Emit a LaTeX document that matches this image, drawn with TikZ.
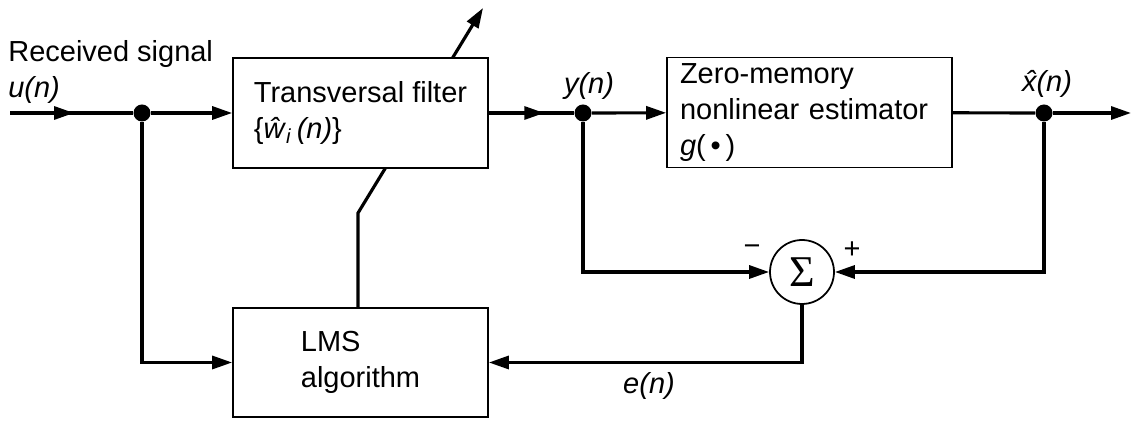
\documentclass[tikz,border=0pt]{standalone}
\usepackage{fontspec}
\setmainfont{Liberation Sans}
\newfontfamily\sigmafont{Liberation Serif}
\usetikzlibrary{arrows.meta, positioning, decorations.markings}

\begin{document}
\begin{tikzpicture}[
    x=0.02cm, y=-0.02cm,
    font=\fontsize{16.5}{20.5}\selectfont,
    arrow/.style={-{Triangle[length=0.4cm, width=0.26cm]}, line width=1.8pt},
    wire/.style={line width=1.8pt},
    midarrow/.style={
        line width=1.8pt,
        postaction={decorate},
        decoration={markings,
            mark=at position #1 with {\arrow{Triangle[length=0.4cm, width=0.26cm]}}}
    },
    midarrow/.default=0.5,
    block/.style={
        rectangle,
        draw=black,
        fill=white,
        line width=1pt,
        minimum width=5.1cm,
        minimum height=2.2cm,
        align=left
    },
    dot/.style={circle, fill=black, inner sep=0pt, minimum size=0.34cm},
    sumnode/.style={circle, draw=black, fill=white, line width=1pt, minimum size=1.28cm, inner sep=0pt},
    lbl/.style={inner sep=0pt, align=left}
]
\useasboundingbox (0,0) rectangle (1133,421);

\node[block, minimum height=2.18cm] (lms) at (360.5,362.5) {LMS\\algorithm};

% adjustment arrow through the filter
\coordinate (kink) at (358,213);
\coordinate (tune) at (483,8);
\draw[arrow] (lms.north -| kink) -- (kink) -- (tune);

\node[block] (tf) at (360.5,113) {
    Transversal filter\\
    \{\textit{\^{w}}\textsubscript{\textit{i}}\,\textit{(n)}\}
};

\node[block, minimum width=5.7cm, text width=5.18cm, inner xsep=0.26cm] (zm) at (809.5,112.5) {
    Zero-memory\\
    nonlinear estimator\\
    \textit{g}(\,\textbullet\,)
};

\node[dot] (jin) at (142,113) {};
\node[dot] (jy) at (583,113) {};
\node[dot] (jx) at (1044,113) {};
\node[sumnode] (sum) at (802,272) {\sigmafont\fontsize{25}{25}\selectfont Σ};

\coordinate (in) at (10,113);
\coordinate (out) at (1131,113);

\draw[midarrow=0.52] (in) -- (jin);
\draw[arrow] (jin) -- (tf);
\draw[midarrow=0.65] (tf) -- (jy);
\draw[arrow] (jy) -- (zm);
\draw[wire] (zm) -- (jx);
\draw[arrow] (jx) -- (out);
\draw[arrow] (jy) |- (sum);
\draw[arrow] (jx) |- (sum);
\draw[arrow] (sum) |- (lms);
\draw[arrow] (jin) |- (lms);

% labels
\node[lbl, anchor=south west] (rxlabel) at (8,104) {Received signal\\\textit{u(n)}};
\node[lbl, anchor=base] (ylabel) at (589,94) {\textit{y(n)}};
\node[lbl, anchor=base] (xlabel) at (1047,92) {\textit{\^{x}(n)}};
\node[lbl, anchor=base] (elabel) at (649,394) {\textit{e(n)}};
\node[lbl] (minus) at (752,250) {−};
\node[lbl] (plus) at (852,250) {+};

\end{tikzpicture}
\end{document}
